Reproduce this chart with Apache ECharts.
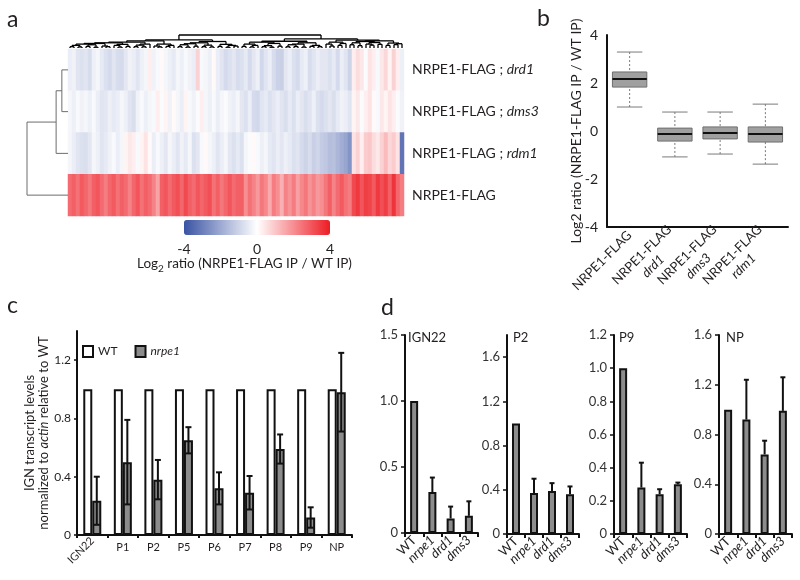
<!DOCTYPE html>
<html><head><meta charset="utf-8">
<script src="https://cdn.jsdelivr.net/npm/echarts@6/dist/echarts.min.js"></script>
<style>html,body{margin:0;padding:0;background:#fff}#c{width:800px;height:580px}</style>
</head><body><div id="c"></div>
<script>
// ================= DATA =================
// Panel a: heatmap rows (top to bottom)
const heatRowNames = ['NRPE1-FLAG ; drd1', 'NRPE1-FLAG ; dms3', 'NRPE1-FLAG ; rdm1', 'NRPE1-FLAG'];
const heatDrd1 = [-0.4,-0.3,-0.6,-0.7,-0.6,-0.8,-0.35,-0.2,-0.5,-0.7,-0.85,-0.6,-0.8,-0.85,-0.55,-0.3,-0.4,-0.6,-0.35,-0.2,0.3,
  -0.3,-0.15,0.1,-0.2,-0.35,-0.5,-0.2,-0.35,-0.15,-0.3,-0.4,0.8,-0.15,-0.2,-0.35,0.1,-0.4,-0.6,-0.85,-0.7,-0.55,-0.8,
  -0.7,-0.5,-0.85,-0.55,-0.35,-0.9,-0.6,-0.4,-0.8,-1.05,-1.1,-0.55,-0.4,-0.7,-0.85,-0.5,-0.35,-0.8,-0.6,-0.4,-0.55,
  -0.55,-0.7,-0.5,-0.85,-0.4,-0.6,-1.0,0.3,0.6,0.4,-0.1,0.5,0.3,-0.15,0.4,0.7,0.2,0.8,0.3,-0.35];
const heatDms3 = [-0.2,-0.35,-0.15,-0.3,-0.2,-0.35,-0.15,-0.4,-0.6,-0.55,-0.35,-0.5,-0.4,-0.2,-0.35,-0.6,-0.75,-0.3,-0.15,-0.35,-0.2,
  -0.15,0.3,-0.1,0.2,-0.3,0.1,-0.2,-0.4,0.2,-0.15,-0.3,-0.1,0.3,-0.2,-0.35,-0.15,-0.4,-0.2,-0.1,-0.3,-0.4,-0.2,
  -0.55,-0.7,-0.4,-0.85,-0.9,-0.6,-0.5,-0.7,-0.55,-0.4,-0.6,-0.75,-0.5,-0.7,-0.4,-0.55,-0.75,-0.6,-0.35,-0.7,-0.85,
  -0.7,-0.55,-0.75,-0.5,-0.3,-0.4,-0.6,0.2,0.4,-0.1,0.3,0.5,0.1,-0.15,0.4,0.2,0.5,0.3,-0.1,-0.3];
const heatRdm1 = [-0.2,-0.4,-0.6,-0.7,-0.75,-0.55,-0.2,-0.35,-0.6,-0.5,-0.3,-0.15,-0.4,-0.2,0.2,0.4,0.3,-0.15,0.2,0.5,0.1,
  -0.4,-0.15,-0.35,-0.55,-0.2,-0.4,-0.6,-0.3,-0.5,-0.2,-0.7,-0.55,-0.15,0.1,-0.2,-0.35,-0.6,-0.4,-0.2,-0.55,-0.7,-0.5,
  -0.7,-0.2,-0.1,0.1,-0.15,-0.35,-0.2,-0.5,-0.6,-0.4,-0.55,-0.35,-0.5,-0.7,-0.6,-0.85,-1.0,-0.8,-1.1,-0.95,-1.2,
  -1.3,-1.5,-1.45,-1.7,-1.9,-2.1,-2.5,0.5,0.8,0.3,0.9,1.0,0.6,0.4,0.8,1.2,0.7,0.9,0.5,-3.2];
const heatNrpe1 = [2.6,2.8,2.5,2.9,2.7,2.4,2.8,3.0,2.6,2.3,2.7,2.9,2.5,2.8,2.6,2.2,2.7,3.0,2.5,2.8,2.6,
  2.2,1.6,2.8,3.0,2.6,2.9,3.1,2.7,3.2,2.8,2.6,3.0,2.7,2.9,3.1,2.5,2.8,2.4,2.7,3.0,2.6,2.8,
  2.8,2.0,2.5,2.2,1.8,2.4,2.1,1.5,2.3,2.0,1.4,2.2,1.9,2.3,1.7,2.1,2.4,1.9,2.2,1.8,2.0,
  2.4,2.8,2.2,2.6,2.9,2.5,2.3,3.2,3.5,3.0,3.4,3.3,2.9,3.5,3.1,3.4,2.8,3.6,2.7,2.3];
// dendrogram merge heights between neighbouring leaves (relative to root = 1)
const colDendroGaps = [0.1,0.2,0.08,0.3,0.12,0.25,0.06,0.35,0.15,0.1,0.4,0.2,0.07,0.28,0.12,0.45,0.1,0.22,0.09,0.3,
  0.55,
  0.15,0.08,0.3,0.12,0.2,0.62,0.1,0.25,0.07,0.33,0.14,0.4,0.1,0.22,0.08,0.5,0.12,0.28,0.06,0.2,0.15,
  1.0,
  0.12,0.3,0.08,0.2,0.45,0.1,0.18,0.06,0.35,0.14,0.52,0.09,0.25,0.11,0.3,0.07,0.4,0.13,0.2,0.1,
  0.7,
  0.3,0.15,0.45,0.2,0.35,0.6,0.25,0.4,0.18,0.5,0.3,0.22,0.42,0.28,0.55,0.2,0.38,0.26,0.33];
const rowDendroGaps = [0.15, 0.29, 1.0];
const colorbarTicks = [-4, 0, 4];

// Panel b: boxplot
const boxCats = ['NRPE1-FLAG', 'NRPE1-FLAG\ndrd1', 'NRPE1-FLAG\ndms3', 'NRPE1-FLAG\nrdm1'];
const boxMin = [1.0, -1.08, -0.96, -1.38];
const boxQ1  = [1.83, -0.42, -0.33, -0.46];
const boxMed = [2.17, -0.13, -0.08, -0.13];
const boxQ3  = [2.46, 0.12, 0.17, 0.17];
const boxMax = [3.29, 0.79, 0.79, 1.12];
const boxTicks = [-4, -2, 0, 2, 4];

// Panel c
const cCats = ['IGN22', 'P1', 'P2', 'P5', 'P6', 'P7', 'P8', 'P9', 'NP'];
const cWT = [1, 1, 1, 1, 1, 1, 1, 1, 1];
const cNrpe1 = [0.235, 0.50, 0.38, 0.65, 0.32, 0.29, 0.59, 0.12, 0.98];
const cNrpe1Err = [0.165, 0.29, 0.135, 0.09, 0.11, 0.115, 0.10, 0.07, 0.27];
const cTicks = [0, 0.4, 0.8, 1.2];

// Panel d
const dCats = ['WT', 'nrpe1', 'drd1', 'dms3'];
const dIGN22 = [1.0, 0.31, 0.11, 0.13];  const dIGN22Err = [0, 0.11, 0.09, 0.11];
const dP2    = [1.0, 0.37, 0.39, 0.36];  const dP2Err    = [0, 0.13, 0.07, 0.07];
const dP9    = [1.0, 0.28, 0.24, 0.30];  const dP9Err    = [0, 0.15, 0.03, 0.01];
const dNP    = [1.0, 0.92, 0.64, 0.99];  const dNPErr    = [0, 0.32, 0.11, 0.27];
const dIGN22Ticks = [0, 0.5, 1.0, 1.5];
const dP2Ticks = [0, 0.4, 0.8, 1.2, 1.6];
const dP9Ticks = [0, 0.2, 0.4, 0.6, 0.8, 1.0, 1.2];
const dNPTicks = [0, 0.4, 0.8, 1.2, 1.6];

// ================= CHART =================
const FONT = 'Lato';
const T = '#231f20';
const chart = echarts.init(document.getElementById('c'), null, {renderer: 'canvas'});

function buildDendro(gaps, lo, hi, segs) {
  if (lo === hi) return {p: lo, h: 0};
  let k = lo;
  for (let i = lo; i < hi; i++) if (gaps[i] > gaps[k]) k = i;
  const L = buildDendro(gaps, lo, k, segs), R = buildDendro(gaps, k + 1, hi, segs);
  const h = gaps[k];
  segs.push([L.p, L.h, L.p, h], [R.p, R.h, R.p, h], [L.p, h, R.p, h]);
  return {p: (L.p + R.p) / 2, h: h};
}
const colSegs = []; buildDendro(colDendroGaps, 0, heatDrd1.length - 1, colSegs);
const rowSegsRaw = []; buildDendro(rowDendroGaps, 0, heatRowNames.length - 1, rowSegsRaw);
const rowSegs = rowSegsRaw.map(s => [s[1], s[0], s[3], s[2]]);

const heatMatrix = [heatDrd1, heatDms3, heatRdm1, heatNrpe1];
const heatData = [];
heatMatrix.forEach((row, r) => row.forEach((v, c) => heatData.push([c, r, v])));
const heatCols = heatDrd1.map((_, i) => i);

const grids = [
  {left: 68, top: 49, width: 336, height: 167},   // 0 heat
  {left: 68, top: 35, width: 336, height: 13},    // 1 top dendrogram
  {left: 27, top: 49, width: 41, height: 167},    // 2 left dendrogram
  {left: 184, top: 236, width: 146, height: 1},   // 3 colour bar axis
  {left: 607, top: 35, width: 181, height: 192},  // 4 boxplot
  {left: 77, top: 331, width: 275, height: 204},  // 5 panel c
  {left: 405, top: 335, width: 73, height: 198},  // 6 d IGN22
  {left: 507, top: 335, width: 72, height: 199},  // 7 d P2
  {left: 614, top: 335, width: 73, height: 199},  // 8 d P9
  {left: 719, top: 335, width: 73, height: 199}   // 9 d NP
].map(g => Object.assign({outerBoundsMode: 'none', containLabel: false}, g));

const hidden = {show: false};
const axisLineBlack = {show: true, onZero: false, lineStyle: {color: '#111', width: 2}};
const xAxes = [], yAxes = [], series = [];

// --- panel a ---
xAxes.push({gridIndex: 0, type: 'category', data: heatCols, show: false});
yAxes.push({gridIndex: 0, type: 'category', data: heatRowNames, inverse: true, position: 'right',
  axisLine: hidden, axisTick: hidden,
  axisLabel: {margin: 8, formatter: v => {
      const p = v.split(' ; ');
      return p.length > 1 ? '{n|' + p[0] + ' ; }{i|' + p[1] + '}' : '{n|' + v + '}';
    },
    rich: {n: {fontFamily: FONT, fontSize: 14, color: T}, i: {fontFamily: FONT, fontSize: 14, color: T, fontStyle: 'italic'}}}});
series.push({type: 'heatmap', xAxisIndex: 0, yAxisIndex: 0, data: heatData, silent: true});

xAxes.push({gridIndex: 1, type: 'value', min: -0.5, max: heatDrd1.length - 0.5, show: false});
yAxes.push({gridIndex: 1, type: 'value', min: 0, max: 1, show: false});
series.push({type: 'custom', xAxisIndex: 1, yAxisIndex: 1, data: colSegs, silent: true,
  renderItem: (p, api) => {
    const a = api.coord([api.value(0), api.value(1)]), b = api.coord([api.value(2), api.value(3)]);
    return {type: 'line', shape: {x1: a[0], y1: a[1], x2: b[0], y2: b[1]}, style: {stroke: '#000', lineWidth: 1.3}};
  }});

xAxes.push({gridIndex: 2, type: 'value', min: 0, max: 1, inverse: true, show: false});
yAxes.push({gridIndex: 2, type: 'value', min: -0.5, max: heatRowNames.length - 0.5, inverse: true, show: false});
series.push({type: 'custom', xAxisIndex: 2, yAxisIndex: 2, data: rowSegs, silent: true,
  renderItem: (p, api) => {
    const a = api.coord([api.value(0), api.value(1)]), b = api.coord([api.value(2), api.value(3)]);
    return {type: 'line', shape: {x1: a[0], y1: a[1], x2: b[0], y2: b[1]}, style: {stroke: '#6d6d6d', lineWidth: 1}};
  }});

xAxes.push({gridIndex: 3, type: 'value', min: -4, max: 4, interval: 4,
  axisLine: hidden, axisTick: hidden, splitLine: hidden,
  axisLabel: {customValues: colorbarTicks, margin: 5, fontFamily: FONT, fontSize: 14, color: T}});
yAxes.push({gridIndex: 3, type: 'value', show: false});

// --- panel b ---
xAxes.push({gridIndex: 4, type: 'category', data: boxCats, axisLine: axisLineBlack, axisTick: hidden,
  axisLabel: {interval: 0, rotate: 45, margin: 6,
    formatter: v => { const p = v.split('\n'); return p.length > 1 ? '{n|' + p[0] + '}\n{i|' + p[1] + '}' : '{n|' + v + '}'; },
    rich: {n: {fontFamily: FONT, fontSize: 13, color: T, lineHeight: 16},
           i: {fontFamily: FONT, fontSize: 13, color: T, fontStyle: 'italic', align: 'center', lineHeight: 16}}}});
yAxes.push({gridIndex: 4, type: 'value', min: -4, max: 4, interval: 2, axisLine: axisLineBlack, axisTick: hidden,
  splitLine: hidden,
  axisLabel: {customValues: boxTicks, margin: 9, fontFamily: FONT, fontSize: 14, color: T},
  name: 'Log2 ratio (NRPE1-FLAG IP / WT IP)', nameLocation: 'middle', nameRotate: 90, nameGap: 24,
  nameMoveOverlap: false,
  nameTextStyle: {fontFamily: FONT, fontSize: 14, color: T}});
series.push({type: 'custom', xAxisIndex: 4, yAxisIndex: 4, silent: true,
  data: boxCats.map((c, i) => [i, boxMin[i], boxQ1[i], boxMed[i], boxQ3[i], boxMax[i]]),
  encode: {x: 0, y: [1, 2, 3, 4, 5]},
  renderItem: (p, api) => {
    const i = api.value(0);
    const lo = api.coord([i, api.value(1)]), q1 = api.coord([i, api.value(2)]), md = api.coord([i, api.value(3)]),
          q3 = api.coord([i, api.value(4)]), hi = api.coord([i, api.value(5)]);
    const bw = api.size([1, 0])[0] * 0.76, cw = bw * 0.74, x = md[0];
    const wl = {stroke: '#7a7a7a', lineWidth: 1, lineDash: [2, 2]};
    const cl = {stroke: '#7a7a7a', lineWidth: 1};
    return {type: 'group', children: [
      {type: 'line', shape: {x1: x, y1: hi[1], x2: x, y2: q3[1]}, style: wl},
      {type: 'line', shape: {x1: x, y1: lo[1], x2: x, y2: q1[1]}, style: wl},
      {type: 'line', shape: {x1: x - cw / 2, y1: hi[1], x2: x + cw / 2, y2: hi[1]}, style: cl},
      {type: 'line', shape: {x1: x - cw / 2, y1: lo[1], x2: x + cw / 2, y2: lo[1]}, style: cl},
      {type: 'rect', shape: {x: x - bw / 2, y: q3[1], width: bw, height: q1[1] - q3[1]},
        style: {fill: '#a0a0a0', stroke: '#6e6e6e', lineWidth: 1}},
      {type: 'line', shape: {x1: x - bw / 2, y1: md[1], x2: x + bw / 2, y2: md[1]}, style: {stroke: '#111', lineWidth: 2}}
    ]};
  }});

// --- panel c ---
const fmtDec = v => (v === 0 ? '0' : v.toFixed(1));
xAxes.push({gridIndex: 5, type: 'category', data: cCats, position: 'bottom', axisLine: axisLineBlack,
  axisTick: {show: true, length: 3, lineStyle: {color: '#111', width: 2}},
  axisLabel: {interval: 0, margin: 7, fontFamily: FONT, fontSize: 11, color: T, formatter: v => (v === 'IGN22' ? '' : v)}});
xAxes.push({gridIndex: 5, type: 'category', data: cCats, position: 'bottom', offset: 0, axisLine: hidden, axisTick: hidden,
  axisLabel: {interval: 0, rotate: 45, margin: 4, fontFamily: FONT, fontSize: 11, color: T, formatter: v => (v === 'IGN22' ? v : '')}});
yAxes.push({gridIndex: 5, type: 'value', min: 0, max: 1.4, interval: 0.4, axisLine: axisLineBlack, splitLine: hidden,
  axisTick: {show: true, length: 3, customValues: cTicks, lineStyle: {color: '#111', width: 1.5}},
  axisLabel: {customValues: cTicks, margin: 6, fontFamily: FONT, fontSize: 12, color: T, formatter: fmtDec}});
const cxi = xAxes.length - 2, cyi = yAxes.length - 1;
series.push({type: 'bar', name: 'WT', xAxisIndex: cxi, yAxisIndex: cyi, data: cWT, barWidth: 9, barGap: '0%',
  itemStyle: {color: '#ffffff', borderColor: '#111', borderWidth: 2}, silent: true});
series.push({type: 'bar', name: 'nrpe1', xAxisIndex: cxi, yAxisIndex: cyi, data: cNrpe1, barWidth: 9, barGap: '0%',
  itemStyle: {color: '#8c8c8c', borderColor: '#111', borderWidth: 2}, silent: true});
series.push({type: 'custom', xAxisIndex: cxi, yAxisIndex: cyi, z: 5, silent: true,
  data: cNrpe1.map((v, i) => [i, v, cNrpe1Err[i]]), encode: {x: 0, y: 1},
  renderItem: (p, api) => {
    const i = api.value(0), m = api.value(1), e = api.value(2);
    const t = api.coord([i, m + e]), b = api.coord([i, Math.max(0, m - e)]);
    const x = t[0] + 4.5, st = {stroke: '#111', lineWidth: 2};
    return {type: 'group', children: [
      {type: 'line', shape: {x1: x, y1: t[1], x2: x, y2: b[1]}, style: st},
      {type: 'line', shape: {x1: x - 3, y1: t[1], x2: x + 3, y2: t[1]}, style: st},
      {type: 'line', shape: {x1: x - 3, y1: b[1], x2: x + 3, y2: b[1]}, style: st}
    ]};
  }});

// --- panel d ---
const dPanels = [
  {vals: dIGN22, err: dIGN22Err, ticks: dIGN22Ticks, max: 1.5},
  {vals: dP2, err: dP2Err, ticks: dP2Ticks, max: 1.8},
  {vals: dP9, err: dP9Err, ticks: dP9Ticks, max: 1.2},
  {vals: dNP, err: dNPErr, ticks: dNPTicks, max: 1.6}
];
dPanels.forEach((pn, k) => {
  const g = 6 + k;
  xAxes.push({gridIndex: g, type: 'category', data: dCats, axisLine: axisLineBlack,
    axisTick: {show: true, length: 4, lineStyle: {color: '#111', width: 2}},
    axisLabel: {interval: 0, rotate: 45, margin: 5,
      formatter: v => (v === 'WT' ? '{n|' + v + '}' : '{i|' + v + '}'),
      rich: {n: {fontFamily: FONT, fontSize: 13, color: T}, i: {fontFamily: FONT, fontSize: 13, color: T, fontStyle: 'italic'}}}});
  yAxes.push({gridIndex: g, type: 'value', min: 0, max: pn.max, axisLine: axisLineBlack, splitLine: hidden,
    axisTick: {show: true, length: 4, customValues: pn.ticks, lineStyle: {color: '#111', width: 1.5}},
    axisLabel: {customValues: pn.ticks, margin: 7, fontFamily: FONT, fontSize: 13, color: '#333', formatter: fmtDec}});
  const xi = xAxes.length - 1, yi = yAxes.length - 1;
  series.push({type: 'bar', xAxisIndex: xi, yAxisIndex: yi, data: pn.vals, barWidth: 8, silent: true,
    itemStyle: {color: '#8c8c8c', borderColor: '#111', borderWidth: 2}});
  series.push({type: 'custom', xAxisIndex: xi, yAxisIndex: yi, z: 5, silent: true,
    data: pn.vals.map((v, i) => [i, v, pn.err[i]]).filter(d => d[2] > 0), encode: {x: 0, y: 1},
    renderItem: (p, api) => {
      const i = api.value(0), m = api.value(1), e = api.value(2);
      const t = api.coord([i, m + e]), b = api.coord([i, m]);
      const st = {stroke: '#111', lineWidth: 2};
      return {type: 'group', children: [
        {type: 'line', shape: {x1: t[0], y1: t[1], x2: b[0], y2: b[1]}, style: st},
        {type: 'line', shape: {x1: t[0] - 2.5, y1: t[1], x2: t[0] + 2.5, y2: t[1]}, style: st}
      ]};
    }});
});

const ttl = (text, left, top, size, extra) => ({text, left, top, padding: 0,
  textStyle: Object.assign({fontFamily: FONT, fontSize: size, fontWeight: 'normal', color: T}, extra || {})});

const option = {
  animation: false,
  backgroundColor: '#fff',
  title: [
    ttl('a', 7, 8, 23), ttl('b', 537, 7, 23), ttl('c', 7, 294, 23), ttl('d', 381, 296, 23),
    ttl('IGN22', 408, 331, 13), ttl('P2', 513, 331, 13), ttl('P9', 619, 331, 13), ttl('NP', 726, 331, 13),
    {text: '{n|Log}{s|2}{n| ratio (NRPE1-FLAG IP / WT IP)}', left: 137, top: 254, padding: 0,
      textStyle: {fontWeight: 'normal', rich: {
        n: {fontFamily: FONT, fontSize: 13.5, color: T, fontWeight: 'normal'},
        s: {fontFamily: FONT, fontSize: 10, color: T, fontWeight: 'normal', padding: [10, 0, 0, 0]}}}}
  ],
  graphic: [{
    type: 'text', x: 37, y: 433, rotation: Math.PI / 2, silent: true,
    style: {text: '{n|IGN transcript levels}\n{n|normalized to }{i|actin}{n| relative to WT}',
      align: 'center', verticalAlign: 'middle',
      rich: {n: {fontFamily: FONT, fontSize: 13, fill: T, lineHeight: 14, align: 'center'},
             i: {fontFamily: FONT, fontSize: 13, fill: T, fontStyle: 'italic', lineHeight: 14}}}
  }],
  legend: {data: ['WT', 'nrpe1'], left: 82, top: 345, padding: 0, itemWidth: 10, itemHeight: 11, itemGap: 17,
    icon: 'rect', selectedMode: false,
    formatter: n => (n === 'nrpe1' ? '{i|nrpe1}' : '{n|' + n + '}'),
    textStyle: {rich: {n: {fontFamily: FONT, fontSize: 12, color: T}, i: {fontFamily: FONT, fontSize: 12, color: T, fontStyle: 'italic'}}}},
  visualMap: {type: 'continuous', seriesIndex: 0, dimension: 2, min: -4, max: 4, orient: 'horizontal',
    left: 184, top: 220, itemWidth: 15, itemHeight: 146, calculable: false, padding: 0, hoverLink: false,
    inRange: {color: ['#3953a4', '#ffffff', '#ed1c24']}, textStyle: {color: 'transparent'}},
  grid: grids,
  xAxis: xAxes,
  yAxis: yAxes,
  series: series
};
chart.setOption(option);
</script>
</body></html>
